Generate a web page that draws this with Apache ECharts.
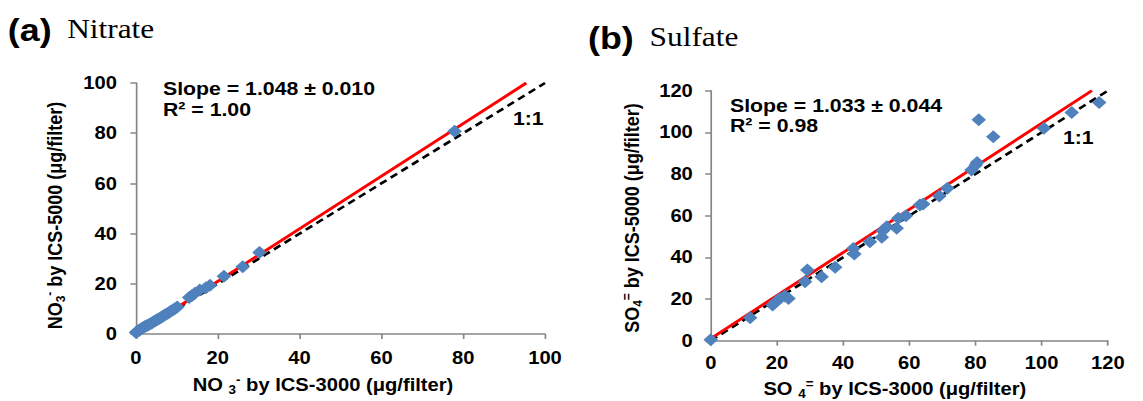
<!DOCTYPE html>
<html>
<head>
<meta charset="utf-8">
<script src="https://cdn.jsdelivr.net/npm/echarts@6/dist/echarts.min.js"></script>
<style>
    html, body { margin: 0; padding: 0; background: #fff; overflow: hidden; }
    /* the source figure is stretched horizontally, so draw narrower and stretch */
    #chart { width: 1021px; height: 401px; transform: scaleX(1.12); transform-origin: 0 0; }
</style>
</head>
<body>
<div id="chart"></div>
<script>
// ICS-3000 (x) vs ICS-5000 (y), µg/filter
const nitratePoints = [
    [0, 0.6], [0.3, 1.0], [0.7, 1.3], [1.0, 1.8], [1.4, 2.2], [1.8, 2.6], [2.2, 3.0],
    [2.6, 3.3], [3.0, 3.6], [3.5, 4.1], [3.9, 4.4], [4.3, 4.9], [4.8, 5.3], [5.2, 5.8],
    [5.7, 6.2], [6.1, 6.6], [6.6, 7.1], [7.0, 7.6], [7.5, 8.0], [8.0, 8.5], [8.5, 9.1],
    [9.0, 9.6], [9.5, 10.1], [10.1, 10.8], [13.0, 14.5], [13.7, 15.3], [14.4, 16.2],
    [15.6, 17.5], [17.1, 18.4], [18.1, 19.4], [21.5, 23.0], [26.1, 26.8], [30.2, 32.5],
    [77.9, 80.8]
];
const sulfatePoints = [
    [0, 0.5], [11.9, 11.0], [18.7, 17.1], [19.7, 18.7], [20.9, 20.3], [22.4, 21.5],
    [23.5, 20.3], [28.5, 28.3], [29.2, 33.9], [33.5, 30.7], [37.6, 35.2], [43.1, 44.3],
    [43.4, 41.6], [48.1, 47.5], [51.7, 49.6], [52.0, 52.8], [53.2, 54.7], [56.2, 54.0],
    [56.7, 58.8], [59.0, 60.0], [63.2, 65.1], [64.2, 65.6], [69.1, 69.5], [71.5, 73.2],
    [78.8, 81.9], [80.1, 84.3], [80.5, 85.5], [81.0, 106.0], [85.4, 97.9], [100.7, 102.0],
    [109.1, 109.5], [117.4, 114.3]
];
const nitrateSlope = 1.048, nitrateIntercept = 0, nitrateMax = 100;
const sulfateSlope = 1.033, sulfateIntercept = 1, sulfateMax = 120;

const FONT = '"Liberation Sans", Arial, sans-serif';
const SERIF = '"Liberation Serif", "Times New Roman", serif';
const BLUE = '#4F81BD';
const AXIS = '#868686';

function fitLine(slope, intercept, max) {
    return [[0, intercept], [(max - intercept) / slope, max]];
}

function axis(gridIndex, max, interval, margin) {
    return {
        type: 'value', gridIndex, min: 0, max, interval,
        axisLine: { show: true, lineStyle: { color: AXIS, width: 1.5 } },
        axisTick: { show: true, inside: false, length: 5, lineStyle: { color: AXIS, width: 1.5 } },
        splitLine: { show: false },
        axisLabel: { color: '#000', fontSize: 18, fontWeight: 'bold', fontFamily: FONT, margin }
    };
}

const richTitle = {
    m: { fontSize: 18, fontWeight: 'bold', fontFamily: FONT, fill: '#000', lineHeight: 22 },
    sub: { fontSize: 12, fontWeight: 'bold', fontFamily: FONT, fill: '#000', lineHeight: 12, verticalAlign: 'bottom' },
    sup: { fontSize: 12, fontWeight: 'bold', fontFamily: FONT, fill: '#000', lineHeight: 12, verticalAlign: 'top' }
};

function label(text, x, y, opts = {}) {
    return {
        type: 'text', x, y, rotation: opts.rotation || 0,
        style: {
            text, fill: '#000',
            font: opts.font || `bold 18px ${FONT}`,
            align: opts.align || 'left', verticalAlign: 'middle',
            rich: opts.rich
        }
    };
}

function seriesFor(index, points, slope, intercept, max) {
    return [
        {
            type: 'line', xAxisIndex: index, yAxisIndex: index, data: [[0, 0], [max, max]],
            symbol: 'none', lineStyle: { color: '#000', width: 2.6, type: [7, 4.5] }, z: 2
        },
        {
            type: 'line', xAxisIndex: index, yAxisIndex: index, data: fitLine(slope, intercept, max),
            symbol: 'none', lineStyle: { color: '#FF0000', width: 2.8 }, z: 3
        },
        {
            type: 'scatter', xAxisIndex: index, yAxisIndex: index, data: points,
            symbol: 'diamond', symbolSize: 13, itemStyle: { color: BLUE, opacity: 1 }, z: 4
        }
    ];
}

const chart = echarts.init(document.getElementById('chart'), null, { renderer: 'svg' });
chart.setOption({
    animation: false,
    backgroundColor: '#fff',
    grid: [
        { left: 121.4, top: 83, width: 365.2, height: 251 },
        { left: 634.6, top: 90.7, width: 354.5, height: 250 }
    ],
    xAxis: [axis(0, 100, 20, 15), axis(1, 120, 20, 13)],
    yAxis: [axis(0, 100, 20, 17), axis(1, 120, 20, 16)],
    series: [
        ...seriesFor(0, nitratePoints, nitrateSlope, nitrateIntercept, nitrateMax),
        ...seriesFor(1, sulfatePoints, sulfateSlope, sulfateIntercept, sulfateMax)
    ],
    graphic: [
        label('(a)', 7, 30, { font: `bold 32px ${FONT}` }),
        label('Nitrate', 60, 29, { font: `28px ${SERIF}` }),
        label('(b)', 525, 38, { font: `bold 32px ${FONT}` }),
        label('Sulfate', 580, 37, { font: `28px ${SERIF}` }),

        label('Slope = 1.048 ± 0.010', 145.5, 88, { font: `bold 19px ${FONT}` }),
        label('R² = 1.00', 145.5, 109, { font: `bold 19px ${FONT}` }),
        label('1:1', 458, 118, { font: `bold 19px ${FONT}` }),
        label('Slope = 1.033 ± 0.044', 651.8, 105, { font: `bold 19px ${FONT}` }),
        label('R² = 0.98', 651.8, 125, { font: `bold 19px ${FONT}` }),
        label('1:1', 949, 137, { font: `bold 19px ${FONT}` }),

        label('{m|NO }{sub|3}{sup|-}{m| by ICS-3000 (μg/filter)}', 288.4, 385, { align: 'center', rich: richTitle }),
        label('{m|SO }{sub|4}{sup|=}{m| by ICS-3000 (μg/filter)}', 799, 389, { align: 'center', rich: richTitle }),
        label('{m|NO}{sub|3}{sup|-}{m| by ICS-5000 (μg/filter)}', 49, 215.5, { align: 'center', rich: richTitle, rotation: Math.PI / 2 }),
        label('{m|SO}{sub|4}{sup|=}{m| by ICS-5000 (μg/filter)}', 564, 218, { align: 'center', rich: richTitle, rotation: Math.PI / 2 })
    ]
});
</script>
</body>
</html>
